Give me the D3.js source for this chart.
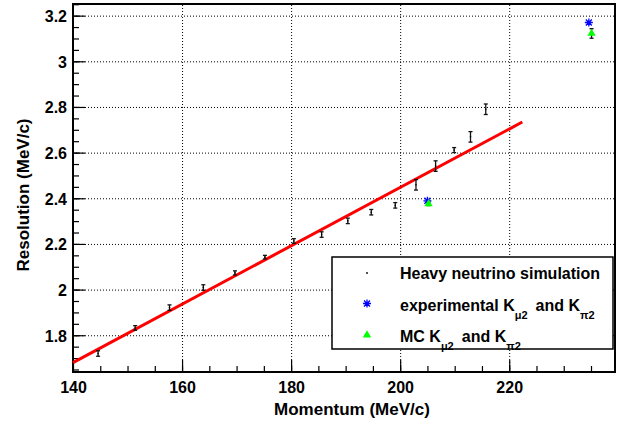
<!DOCTYPE html>
<html>
<head>
<meta charset="utf-8">
<script src="https://cdn.jsdelivr.net/npm/d3@7"></script>
<style>
  body { margin: 0; background: #fff; }
  svg { display: block; font-family: "Liberation Sans", Arial, Helvetica, sans-serif; font-weight: bold; }
</style>
</head>
<body>
<div class="chart"></div>
<script>
// heavy neutrino simulation points
const momentum = [144.6, 151.4, 157.7, 163.9, 169.7, 175.2, 180.5, 185.6, 190.4, 194.7, 199.1, 202.9, 206.5, 209.9, 212.9, 215.7];
const resolution = [1.720, 1.832, 1.921, 2.009, 2.073, 2.142, 2.213, 2.241, 2.301, 2.339, 2.369, 2.459, 2.541, 2.611, 2.669, 2.790];
const resolutionErr = [0.012, 0.010, 0.012, 0.012, 0.009, 0.008, 0.010, 0.012, 0.012, 0.012, 0.012, 0.023, 0.023, 0.011, 0.023, 0.023];

// experimental K_mu2 / K_pi2
const expMomentum = [205.0, 234.6];
const expResolution = [2.389, 3.170];

// MC K_mu2 / K_pi2
const mcMomentum = [205.2, 235.1];
const mcResolution = [2.376, 3.122];
const mcErr = [0.008, 0.021];

// linear fit, end points
const fitMomentum = [140, 222.4];
const fitResolution = [1.680, 2.734];

const xTicks = [140, 160, 180, 200, 220];
const yTicks = [1.8, 2, 2.2, 2.4, 2.6, 2.8, 3, 3.2];
const xMinor = d3.range(145, 240, 5);
const yMinor = d3.range(1.65, 3.26, 0.05);

const W = 622, H = 424;
const frame = {left: 73, right: 615, top: 4, bottom: 372};

const svg = d3.select(".chart").append("svg")
    .attr("width", W)
    .attr("height", H);

svg.append("rect").attr("width", W).attr("height", H).attr("fill", "#fff");

const x = d3.scaleLinear().domain([140, 239.4]).range([frame.left, frame.right]);
const y = d3.scaleLinear().domain([1.639, 3.251]).range([frame.bottom, frame.top]);

// grid
svg.append("g")
    .attr("transform", "translate(0," + frame.bottom + ")")
    .call(d3.axisBottom(x).tickValues(xTicks.slice(1)).tickSize(-(frame.bottom - frame.top)).tickFormat(""))
    .call(g => g.select(".domain").remove())
    .selectAll("line")
    .attr("stroke", "#000").attr("stroke-width", 1).attr("stroke-dasharray", "1,2");

svg.append("g")
    .attr("transform", "translate(" + frame.left + ",0)")
    .call(d3.axisLeft(y).tickValues(yTicks).tickSize(-(frame.right - frame.left)).tickFormat(""))
    .call(g => g.select(".domain").remove())
    .selectAll("line")
    .attr("stroke", "#000").attr("stroke-width", 1).attr("stroke-dasharray", "1,2");

// minor ticks
svg.append("g")
    .attr("transform", "translate(0," + frame.bottom + ")")
    .call(d3.axisBottom(x).tickValues(xMinor).tickSize(-6).tickFormat(""))
    .call(g => g.select(".domain").remove())
    .selectAll("line").attr("stroke", "#000").attr("stroke-width", 1.2);

svg.append("g")
    .attr("transform", "translate(" + frame.left + ",0)")
    .call(d3.axisLeft(y).tickValues(yMinor).tickSize(-6).tickFormat(""))
    .call(g => g.select(".domain").remove())
    .selectAll("line").attr("stroke", "#000").attr("stroke-width", 1.2);

// major ticks + labels
const xAxis = svg.append("g")
    .attr("transform", "translate(0," + frame.bottom + ")")
    .call(d3.axisBottom(x).tickValues(xTicks).tickSize(-12).tickFormat(d3.format("d")));
xAxis.select(".domain").remove();
xAxis.selectAll("line").attr("stroke", "#000").attr("stroke-width", 1.2);
xAxis.selectAll("text")
    .attr("y", 21).attr("dy", 0)
    .attr("font-size", 16).attr("font-weight", "bold")
    .attr("font-family", "Liberation Sans, Arial, sans-serif").attr("fill", "#000");

const yAxis = svg.append("g")
    .attr("transform", "translate(" + frame.left + ",0)")
    .call(d3.axisLeft(y).tickValues(yTicks).tickSize(-12).tickFormat(d => String(+d.toFixed(1))));
yAxis.select(".domain").remove();
yAxis.selectAll("line").attr("stroke", "#000").attr("stroke-width", 1.2);
yAxis.selectAll("text")
    .attr("x", -6).attr("dy", "0.36em")
    .attr("font-size", 16).attr("font-weight", "bold")
    .attr("font-family", "Liberation Sans, Arial, sans-serif").attr("fill", "#000");

// frame
svg.append("rect")
    .attr("x", frame.left).attr("y", frame.top)
    .attr("width", frame.right - frame.left).attr("height", frame.bottom - frame.top)
    .attr("fill", "none").attr("stroke", "#000").attr("stroke-width", 2);

// axis titles
svg.append("text")
    .attr("x", 352).attr("y", 415)
    .attr("text-anchor", "middle").attr("font-size", 17)
    .text("Momentum (MeV/c)");

svg.append("text")
    .attr("transform", "translate(29,195) rotate(-90)")
    .attr("text-anchor", "middle").attr("font-size", 17)
    .text("Resolution (MeV/c)");

// fit line
svg.append("line")
    .attr("x1", x(fitMomentum[0])).attr("y1", y(fitResolution[0]))
    .attr("x2", x(fitMomentum[1])).attr("y2", y(fitResolution[1]))
    .attr("stroke", "#ff0000").attr("stroke-width", 3);

// error bars
function errorBars(xs, ys, es) {
    const g = svg.append("g").attr("stroke", "#111").attr("stroke-width", 1.3);
    xs.forEach((m, i) => {
        const cx = x(m), y0 = y(ys[i] - es[i]), y1 = y(ys[i] + es[i]);
        g.append("line").attr("x1", cx).attr("x2", cx).attr("y1", y0).attr("y2", y1);
        g.append("line").attr("x1", cx - 2).attr("x2", cx + 2).attr("y1", y0).attr("y2", y0);
        g.append("line").attr("x1", cx - 2).attr("x2", cx + 2).attr("y1", y1).attr("y2", y1);
    });
}
errorBars(momentum, resolution, resolutionErr);
errorBars(mcMomentum, mcResolution, mcErr);

svg.append("g")
    .selectAll("circle")
    .data(momentum)
    .enter()
    .append("circle")
    .attr("cx", d => x(d))
    .attr("cy", (d, i) => y(resolution[i]))
    .attr("r", 0.8)
    .attr("fill", "#000");

const starPath = "M-4,0L4,0M0,-4L0,4M-3,-3L3,3M-3,3L3,-3";
const triangle = d3.symbol().type(d3.symbolTriangle).size(30);

svg.append("g")
    .selectAll("path")
    .data(expMomentum)
    .enter()
    .append("path")
    .attr("transform", (d, i) => "translate(" + x(d) + "," + y(expResolution[i]) + ")")
    .attr("d", starPath)
    .attr("stroke", "#0000ff").attr("stroke-width", 1.3).attr("fill", "none");

svg.append("g")
    .selectAll("path")
    .data(mcMomentum)
    .enter()
    .append("path")
    .attr("transform", (d, i) => "translate(" + x(d) + "," + y(mcResolution[i]) + ")")
    .attr("d", triangle)
    .attr("fill", "#00ff00");

// legend
const legend = svg.append("g");
legend.append("rect")
    .attr("x", 332).attr("y", 257).attr("width", 281).attr("height", 92)
    .attr("fill", "#fff").attr("stroke", "#000").attr("stroke-width", 1.5);

legend.append("circle").attr("cx", 367).attr("cy", 273).attr("r", 0.9).attr("fill", "#000");
legend.append("path").attr("transform", "translate(367,303.5)").attr("d", starPath)
    .attr("stroke", "#0000ff").attr("stroke-width", 1.3).attr("fill", "none");
legend.append("path").attr("transform", "translate(367,335)").attr("d", triangle).attr("fill", "#00ff00");

legend.append("text").attr("x", 400).attr("y", 279).attr("font-size", 16)
    .text("Heavy neutrino simulation");

function kLabel(yPos, parts) {
    const t = legend.append("text").attr("x", 400).attr("y", yPos).attr("font-size", 16);
    parts.forEach(p => {
        if (p.sub) {
            t.append("tspan").attr("font-size", 11).attr("dy", 8).text(p.sub);
        } else {
            t.append("tspan").attr("dy", p.back ? -8 : 0).attr("dx", p.dx || 0).text(p.txt);
        }
    });
}
kLabel(311, [{txt: "experimental K"}, {sub: "\u03bc2"}, {txt: "and K", back: true, dx: 8}, {sub: "\u03c02"}]);
kLabel(342, [{txt: "MC K"}, {sub: "\u03bc2"}, {txt: "and K", back: true, dx: 8}, {sub: "\u03c02"}]);
</script>
</body>
</html>
